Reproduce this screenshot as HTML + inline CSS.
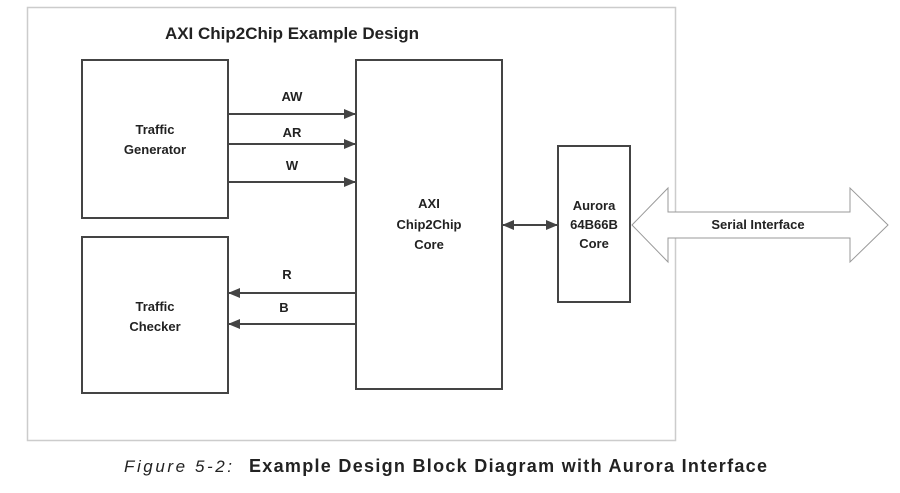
<!DOCTYPE html>
<html><head><style>body{margin:0;background:#fff}svg text{font-family:"Liberation Sans",sans-serif;font-weight:bold;fill:#222}</style></head><body>
<svg width="900" height="488" xmlns="http://www.w3.org/2000/svg">
<defs><marker id="a" markerWidth="12" markerHeight="10" refX="11" refY="5" orient="auto-start-reverse" markerUnits="userSpaceOnUse"><path d="M0,0 L12,5 L0,10 z" fill="#444"/></marker></defs>
<rect x="27.5" y="7.5" width="648" height="433" fill="#fff" stroke="#ccc" stroke-width="1.5"/>
<text x="292" y="39" font-size="17" text-anchor="middle">AXI Chip2Chip Example Design</text>
<g fill="#fff" stroke="#444" stroke-width="2">
<rect x="82" y="60" width="146" height="158"/>
<rect x="82" y="237" width="146" height="156"/>
<rect x="356" y="60" width="146" height="329"/>
<rect x="558" y="146" width="72" height="156"/>
</g>
<g stroke="#444" stroke-width="2" marker-end="url(#a)">
<line x1="228" y1="114" x2="355" y2="114"/>
<line x1="228" y1="144" x2="355" y2="144"/>
<line x1="228" y1="182" x2="355" y2="182"/>
<line x1="356" y1="293" x2="229" y2="293"/>
<line x1="356" y1="324" x2="229" y2="324"/>
<line x1="503" y1="225" x2="557" y2="225" marker-start="url(#a)"/>
</g>
<path d="M632,225 L668,188 L668,212 L850,212 L850,188 L888,225 L850,262 L850,238 L668,238 L668,262 Z" fill="#fff" stroke="#999" stroke-width="1"/>
<g font-size="13" text-anchor="middle">
<text x="292" y="101">AW</text><text x="292" y="137">AR</text><text x="292" y="170">W</text>
<text x="287" y="279">R</text><text x="284" y="312">B</text>
<text x="155" y="134">Traffic</text><text x="155" y="154">Generator</text>
<text x="155" y="311">Traffic</text><text x="155" y="331">Checker</text>
<text x="429" y="208">AXI</text><text x="429" y="229">Chip2Chip</text><text x="429" y="249">Core</text>
<text x="594" y="210">Aurora</text><text x="594" y="229">64B66B</text><text x="594" y="248">Core</text>
<text x="758" y="229">Serial Interface</text>
</g>
<text x="124" y="472" font-size="17" font-style="italic" style="font-weight:normal" fill="#333" textLength="108" lengthAdjust="spacing">Figure 5-2:</text>
<text x="249" y="472" font-size="18" textLength="518" lengthAdjust="spacing">Example Design Block Diagram with Aurora Interface</text>
</svg>
</body></html>
